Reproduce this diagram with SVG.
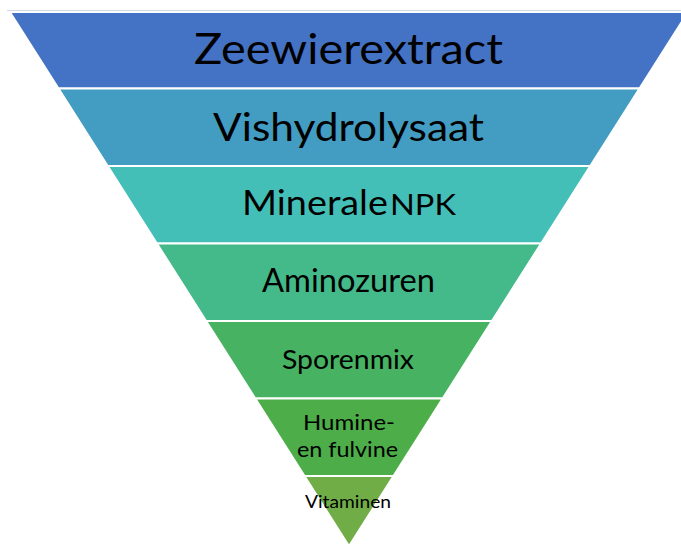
<svg xmlns="http://www.w3.org/2000/svg" width="681" height="546" viewBox="0 0 681 546">
  <style>
    .band { stroke: #ffffff; stroke-width: 1.8; stroke-linejoin: miter; }
    .lbl { font-family: "Lato", "Open Sans", "Liberation Sans", sans-serif; fill: #000000; }
  </style>
  <rect x="0" y="0" width="681" height="546" fill="#ffffff"/>
  <line x1="7" y1="10.5" x2="681" y2="10.5" stroke="#d3d9e3" stroke-width="1"/>
  <g id="band-zeewierextract">
    <polygon class="band" fill="#4472C4" points="10,12 688,12 639.4,88.5 58.6,88.5"/>
    <text class="lbl" x="194" y="64" font-size="43" textLength="309" lengthAdjust="spacingAndGlyphs">Zeewierextract</text>
  </g>
  <g id="band-vishydrolysaat">
    <polygon class="band" fill="#439CC1" points="58.6,88.5 639.4,88.5 590.2,166 107.8,166"/>
    <text class="lbl" x="213" y="141" font-size="39" textLength="271" lengthAdjust="spacingAndGlyphs">Vishydrolysaat</text>
  </g>
  <g id="band-minerale-npk">
    <polygon class="band" fill="#43BFB8" points="107.8,166 590.2,166 541,243.5 157,243.5"/>
    <text class="lbl" x="242" y="215" font-size="35" textLength="146" lengthAdjust="spacingAndGlyphs">Minerale</text>
    <text class="lbl" x="390" y="215" font-size="28" textLength="66" lengthAdjust="spacingAndGlyphs">NPK</text>
  </g>
  <g id="band-aminozuren">
    <polygon class="band" fill="#44BA8B" points="157,243.5 541,243.5 491.8,321 206.2,321"/>
    <text class="lbl" x="262" y="292" font-size="32" textLength="173" lengthAdjust="spacingAndGlyphs">Aminozuren</text>
  </g>
  <g id="band-sporenmix">
    <polygon class="band" fill="#46B262" points="206.2,321 491.8,321 442.6,398.5 255.4,398.5"/>
    <text class="lbl" x="282" y="369" font-size="26.5" textLength="132" lengthAdjust="spacingAndGlyphs">Sporenmix</text>
  </g>
  <g id="band-humine-fulvine">
    <polygon class="band" fill="#4DAE49" points="255.4,398.5 442.6,398.5 393.4,476 304.6,476"/>
    <text class="lbl" x="303" y="430" font-size="21" textLength="92" lengthAdjust="spacingAndGlyphs">Humine-</text>
    <text class="lbl" x="297" y="457" font-size="21" textLength="101" lengthAdjust="spacingAndGlyphs">en fulvine</text>
  </g>
  <g id="band-vitaminen">
    <polygon class="band" fill="#70AD47" points="304.6,476 393.4,476 349,546"/>
    <text class="lbl" x="305" y="508" font-size="18" textLength="86" lengthAdjust="spacingAndGlyphs">Vitaminen</text>
  </g>
</svg>
